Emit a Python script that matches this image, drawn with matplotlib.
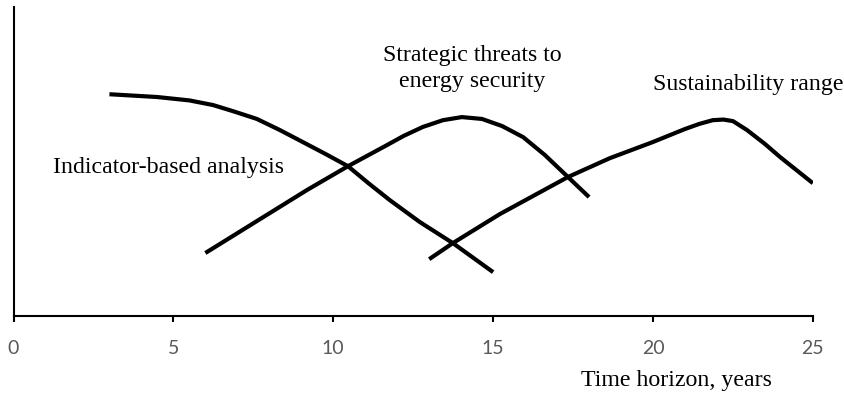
import matplotlib.pyplot as plt

# curve values (x = years, y = relative level)
ind_x = [3.0, 4.49, 5.5, 6.24, 6.9, 7.61, 8.33, 9.05, 9.75, 10.46, 11.1, 11.77, 12.71, 13.74, 15.0]
ind_y = [71.8, 70.9, 69.8, 68.3, 66.2, 63.8, 60.2, 56.3, 52.5, 48.5, 43.0, 37.5, 30.4, 23.6, 14.2]

thr_x = [6.0, 9.18, 10.46, 11.62, 12.2, 12.8, 13.43, 14.02, 14.65, 15.28, 15.94, 16.62, 17.34, 18.0]
thr_y = [20.4, 40.8, 48.5, 55.0, 58.3, 61.2, 63.4, 64.4, 63.8, 61.5, 57.9, 52.1, 45.0, 38.5]

sus_x = [13.0, 13.74, 15.21, 17.34, 18.65, 19.99, 20.99, 21.45, 21.87, 22.2, 22.5, 22.94, 23.5, 23.97, 25.0]
sus_y = [18.4, 23.6, 33.0, 45.0, 51.1, 56.3, 60.5, 62.2, 63.4, 63.6, 63.1, 60.2, 55.7, 51.5, 43.0]

xticks = [0, 5, 10, 15, 20, 25]

fig = plt.figure(figsize=(8.45, 3.96), dpi=100)
ax = fig.add_axes([0.016, 0.202, 0.946, 0.780])

for xs, ys in [(ind_x, ind_y), (thr_x, thr_y), (sus_x, sus_y)]:
    ax.plot(xs, ys, color='black', lw=3, solid_capstyle='butt', solid_joinstyle='round')

ax.set_xlim(0, 25)
ax.set_ylim(0, 100)
ax.set_xticks(xticks)
ax.set_yticks([])
ax.tick_params(axis='x', direction='out', length=4.5, width=1.5, pad=13,
               labelsize=14, labelcolor='#595959')
for lab in ax.get_xticklabels():
    lab.set_family('Lato')

for s in ['top', 'right']:
    ax.spines[s].set_visible(False)
for s in ['left', 'bottom']:
    ax.spines[s].set_linewidth(1.5)

serif = 'Liberation Serif'
ax.text(4.86, 48.2, 'Indicator-based analysis', family=serif, fontsize=17.2,
        ha='center', va='center')
ax.text(14.34, 80.1, 'Strategic threats to\nenergy security', family=serif, fontsize=17.2,
        ha='center', va='center', linespacing=1.3)
ax.text(22.97, 74.8, 'Sustainability range', family=serif, fontsize=17.2,
        ha='center', va='center')
fig.text(0.801, 0.0404, 'Time horizon, years', family=serif, fontsize=17.2,
         ha='center', va='center')

fig.savefig('out.png', dpi=100)
